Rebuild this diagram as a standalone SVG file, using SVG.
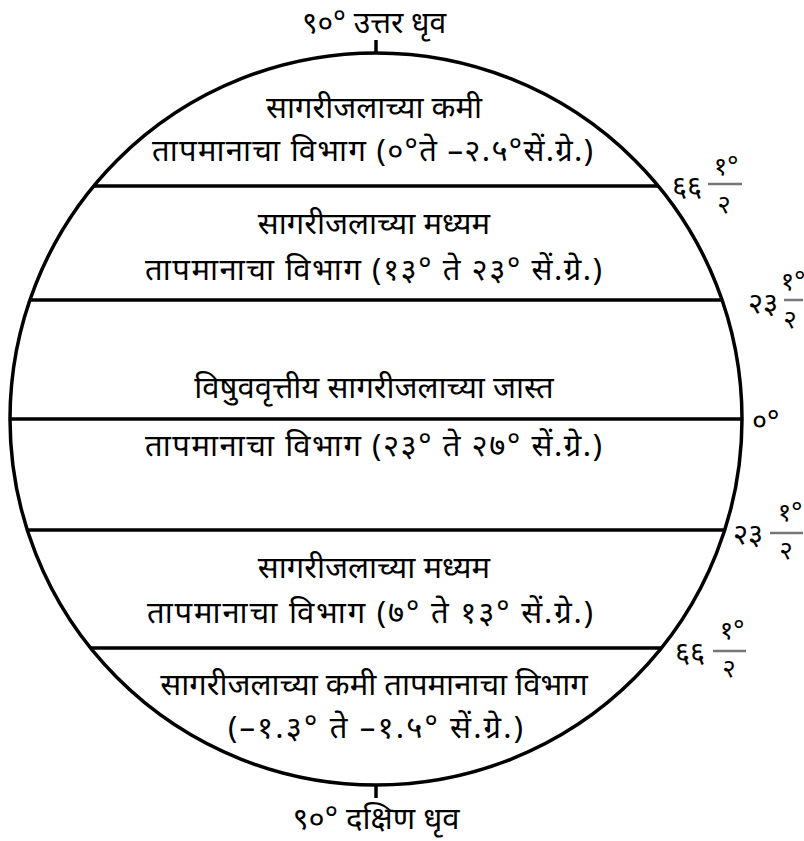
<svg xmlns="http://www.w3.org/2000/svg" width="804" height="841" viewBox="0 0 804 841">
<style>
text{font-family:"Noto Sans","DejaVu Sans",sans-serif;fill:#000;}
.z{font-size:31px;text-anchor:middle;}
.n{font-size:29px;}
.f{font-size:26px;text-anchor:middle;}
.bar{stroke:#777;stroke-width:2.5;}
.ln{stroke:#000;stroke-width:3.5;fill:none;}
</style>
<rect width="804" height="841" fill="#fff"/>
<g id="globe">
<circle class="ln" cx="376" cy="419" r="366"/>
<line class="ln" x1="376" y1="40" x2="376" y2="53"/>
<line class="ln" x1="376" y1="785" x2="376" y2="798"/>
</g>
<g id="connectors">
<line class="ln" x1="94" y1="186" x2="658" y2="186"/>
<line class="ln" x1="30" y1="300" x2="722" y2="300"/>
<line class="ln" x1="10" y1="419" x2="742" y2="419"/>
<line class="ln" x1="28" y1="530" x2="724" y2="530"/>
<line class="ln" x1="91" y1="648" x2="661" y2="648"/>
</g>
<g id="north"><text class="z" x="374" y="33" style="font-size:30px">९०° उत्तर धृव</text></g>
<g id="south"><text class="z" x="376" y="829">९०° दक्षिण धृव</text></g>
<g id="zone1">
<text class="z" x="374" y="118">सागरीजलाच्या कमी</text>
<text class="z" x="372.5" y="161" textLength="441" lengthAdjust="spacing">तापमानाचा विभाग (०°ते –२.५°सें.ग्रे.)</text>
</g>
<g id="zone2">
<text class="z" x="374" y="234">सागरीजलाच्या मध्यम</text>
<text class="z" x="373.5" y="280" textLength="457" lengthAdjust="spacing">तापमानाचा विभाग (१३° ते २३° सें.ग्रे.)</text>
</g>
<g id="zone3">
<text class="z" x="374" y="398">विषुववृत्तीय सागरीजलाच्या जास्त</text>
<text class="z" x="373.5" y="456" textLength="457" lengthAdjust="spacing">तापमानाचा विभाग (२३° ते २७° सें.ग्रे.)</text>
</g>
<g id="zone4">
<text class="z" x="374" y="578">सागरीजलाच्या मध्यम</text>
<text class="z" x="370" y="623" textLength="446" lengthAdjust="spacing">तापमानाचा विभाग (७° ते १३° सें.ग्रे.)</text>
</g>
<g id="zone5">
<text class="z" x="374" y="695">सागरीजलाच्या कमी तापमानाचा विभाग</text>
<text class="z" x="375.5" y="738" textLength="295" lengthAdjust="spacing">(–१.३° ते –१.५° सें.ग्रे.)</text>
</g>
<g id="lat66n">
<text class="n" x="672" y="196">६६</text>
<line class="bar" x1="708" y1="184" x2="742" y2="184"/>
<text class="f" x="726" y="175">१°</text>
<text class="f" x="724" y="213">२</text>
</g>
<g id="lat23n">
<text class="n" x="748" y="313">२३</text>
<line class="bar" x1="784" y1="300" x2="803" y2="300"/>
<text class="f" x="793" y="290">१°</text>
<text class="f" x="790" y="328">२</text>
</g>
<g id="lat0"><text class="n" x="752" y="431">०°</text></g>
<g id="lat23s">
<text class="n" x="733" y="544">२३</text>
<line class="bar" x1="770" y1="533" x2="803" y2="533"/>
<text class="f" x="790" y="521">१°</text>
<text class="f" x="786" y="559">२</text>
</g>
<g id="lat66s">
<text class="n" x="675" y="662">६६</text>
<line class="bar" x1="713" y1="651" x2="746" y2="651"/>
<text class="f" x="732" y="639">१°</text>
<text class="f" x="729" y="677">२</text>
</g>
</svg>
